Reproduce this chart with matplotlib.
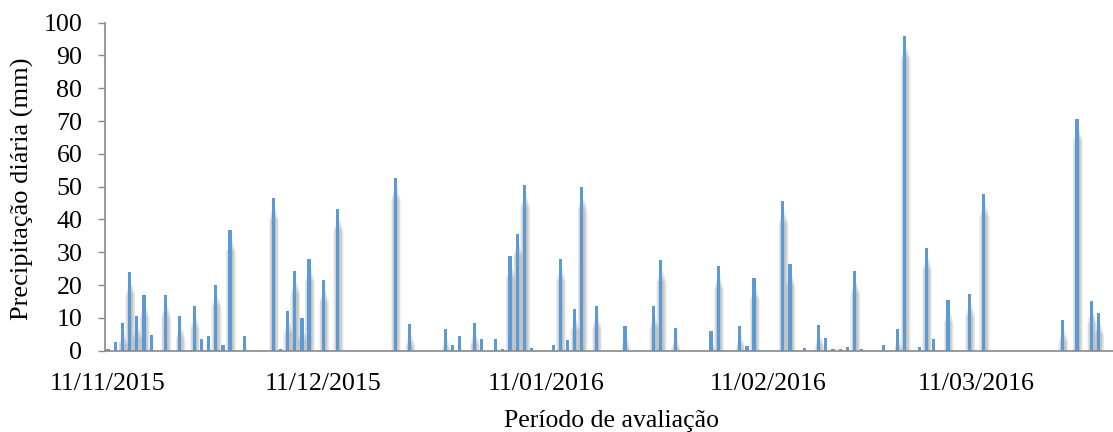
import matplotlib
matplotlib.use("Agg")
import matplotlib.pyplot as plt
import matplotlib.dates as mdates
import pandas as pd
import numpy as np

dates = ["2015-11-11", "2015-11-12", "2015-11-13", "2015-11-14", "2015-11-15", "2015-11-16",
         "2015-11-17", "2015-11-19", "2015-11-21", "2015-11-23", "2015-11-24", "2015-11-25",
         "2015-11-26", "2015-11-27", "2015-11-28", "2015-11-30",
         "2015-12-04", "2015-12-05", "2015-12-06", "2015-12-07", "2015-12-08", "2015-12-09",
         "2015-12-11", "2015-12-13", "2015-12-21", "2015-12-23", "2015-12-28", "2015-12-29",
         "2015-12-30",
         "2016-01-01", "2016-01-02", "2016-01-04", "2016-01-05", "2016-01-06", "2016-01-07",
         "2016-01-08", "2016-01-09", "2016-01-12", "2016-01-13", "2016-01-14", "2016-01-15",
         "2016-01-16", "2016-01-18", "2016-01-22", "2016-01-26", "2016-01-27", "2016-01-29",
         "2016-02-03", "2016-02-04", "2016-02-07", "2016-02-08", "2016-02-09", "2016-02-13",
         "2016-02-14", "2016-02-16", "2016-02-18", "2016-02-19", "2016-02-20", "2016-02-21",
         "2016-02-22", "2016-02-23", "2016-02-24", "2016-02-27", "2016-02-29",
         "2016-03-01", "2016-03-03", "2016-03-04", "2016-03-05", "2016-03-07", "2016-03-10",
         "2016-03-12", "2016-03-23", "2016-03-25", "2016-03-27", "2016-03-28"]

precip = [0.6, 2.8, 8.5, 23.9, 10.5, 17.0,
          4.7, 17.0, 10.5, 13.6, 3.6, 4.4,
          20.1, 1.7, 36.9, 4.4,
          46.7, 0.5, 12.0, 24.2, 10.0, 28.0,
          21.5, 43.3, 52.8, 8.2, 6.7, 1.7,
          4.4,
          8.5, 3.6, 3.6, 0.6, 28.8, 35.7,
          50.5, 0.9, 1.7, 28.1, 3.2, 12.8,
          49.8, 13.6, 7.5, 13.6, 27.7, 7.0,
          5.9, 25.7, 7.5, 1.3, 22.3, 45.5,
          26.4, 0.9, 7.8, 4.0, 0.6, 0.6,
          1.2, 24.2, 0.5, 1.6, 6.6,
          95.8, 1.2, 31.4, 3.6, 15.4, 17.3,
          47.8, 9.4, 70.7, 15.1, 11.6]

tick_dates = ["2015-11-11", "2015-12-11", "2016-01-11", "2016-02-11", "2016-03-11"]
tick_labels = ["11/11/2015", "11/12/2015", "11/01/2016", "11/02/2016", "11/03/2016"]
yticks = [0, 10, 20, 30, 40, 50, 60, 70, 80, 90, 100]

FONT = "Liberation Serif"
BLUE = "#5B9BD5"
FS = 18.7

W, H = 1113, 432
fig = plt.figure(figsize=(W / 100, H / 100), dpi=100)
left_px, right_px, top_px, bot_px = 104.5, 1113, 22.7, 350.7
ax = fig.add_axes([left_px / W, (H - bot_px) / H, (right_px - left_px) / W, (bot_px - top_px) / H])

x = mdates.date2num(pd.to_datetime(dates))
v = np.array(precip)

# soft shadow (Excel outer shadow imitation)
for i in range(6):
    w = 0.5 + 0.18 * i
    h = np.clip(v - 2.5 - 0.7 * i, 0, None)
    ax.bar(x + 0.1, h, width=w, bottom=-0.6, color="#6f6f6f", alpha=0.09,
           linewidth=0, zorder=1, clip_on=True)

ax.bar(x, v, width=0.45, color=BLUE, linewidth=0, zorder=3)

x0 = mdates.date2num(pd.Timestamp("2015-11-11"))
ax.set_xlim(x0 - 0.5, x0 + 140.0)
ax.set_ylim(0, 100)

ax.set_xticks(mdates.date2num(pd.to_datetime(tick_dates)))
ax.set_xticklabels(tick_labels)
ax.set_yticks(yticks)

for s in ("top", "right"):
    ax.spines[s].set_visible(False)
for s in ("left", "bottom"):
    ax.spines[s].set_color("#898989")
    ax.spines[s].set_linewidth(1.2)
    ax.spines[s].set_zorder(4)

ax.tick_params(axis="x", length=0, pad=16, labelsize=FS)
ax.tick_params(axis="y", length=5, width=1.0, color="#898989", pad=11, labelsize=FS)
for lab in ax.get_xticklabels() + ax.get_yticklabels():
    lab.set_fontfamily(FONT)
    lab.set_color("#000000")

fig.text(612 / W, 1 - 427 / H, "Período de avaliação", fontsize=18.5, family=FONT,
         ha="center", va="baseline")
fig.text(22 / W, 1 - 189 / H, "Precipitação diária (mm)", fontsize=19, family=FONT,
         ha="center", va="center", rotation=90)

fig.savefig("out.png", dpi=100)
